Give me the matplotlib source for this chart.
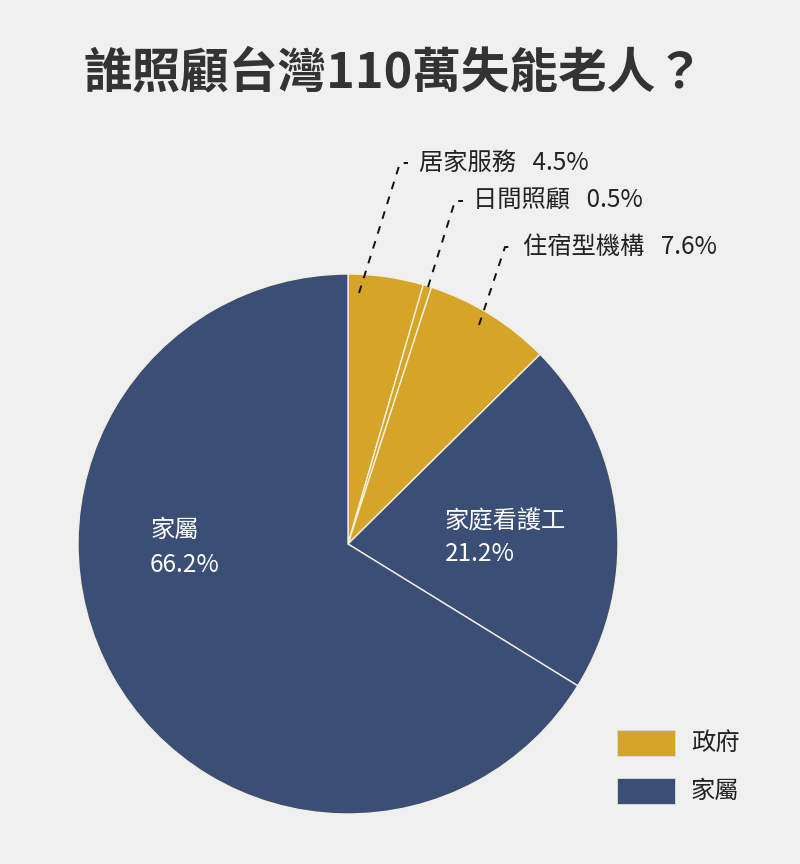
import matplotlib
matplotlib.use("Agg")
import matplotlib.pyplot as plt
from matplotlib.patches import Rectangle

plt.rcParams['font.family'] = ['Noto Sans CJK TC', 'DejaVu Sans']

title = "誰照顧台灣110萬失能老人？"
categories = ["居家服務", "日間照顧", "住宿型機構", "家庭看護工", "家屬"]
values = [4.5, 0.5, 7.6, 21.2, 66.2]
groups = ["政府", "政府", "政府", "家屬", "家屬"]
legend_labels = ["政府", "家屬"]
group_colors = {"政府": "#D5A528", "家屬": "#3A4E76"}

BG = "#F0F0F0"
W, H = 800, 864
fig = plt.figure(figsize=(W / 100, H / 100), dpi=100, facecolor=BG)
ax = fig.add_axes([0, 0, 1, 1])
ax.set_xlim(0, W)
ax.set_ylim(0, H)
ax.set_aspect('equal')
ax.axis('off')

cx, cy, r = 348, H - 544, 270
colors = [group_colors[g] for g in groups]
wedges, _ = ax.pie(values, colors=colors, startangle=90, counterclock=False,
                   center=(cx, cy), radius=r, frame=True,
                   wedgeprops=dict(edgecolor="#F4EFE2", linewidth=1.0))
ax.set_xlim(0, W)
ax.set_ylim(0, H)
ax.axis('off')

# Title
ax.text(394, H - 73, title, ha='center', va='center', fontsize=35,
        fontweight='bold', color="#333333")

FS = 17.5
TXT = "#222222"
# Outside labels with dashed leaders (pixel coords: inner point, elbow, text x)
leaders = [
    ((359, 293), (400, 163), 419),
    ((428, 287), (455, 201), 473),
    ((479, 325), (505, 247), 523),
]
for i, (p0, p1, tx) in enumerate(leaders):
    ax.plot([p0[0], p1[0], p1[0] + 8], [H - p0[1], H - p1[1], H - p1[1]],
            color="#111111", lw=1.4, ls=(0, (4, 4)))
    ax.text(tx, H - p1[1], f"{categories[i]}   {values[i]}%", ha='left',
            va='center', fontsize=FS, fontweight='light', color=TXT)

# Inside labels
ax.text(151, H - 530, categories[4], ha='left', va='center', fontsize=FS,
        fontweight='light', color='white')
ax.text(150, H - 565, f"{values[4]}%", ha='left', va='center', fontsize=FS,
        fontweight='light', color='white')
ax.text(445, H - 522, categories[3], ha='left', va='center', fontsize=FS,
        fontweight='light', color='white')
ax.text(445, H - 554, f"{values[3]}%", ha='left', va='center', fontsize=FS,
        fontweight='light', color='white')

# Legend
for j, lab in enumerate(legend_labels):
    y0 = 730 + j * 48
    ax.add_patch(Rectangle((617, H - y0 - 26), 58, 26, facecolor=group_colors[lab],
                           edgecolor="#DDDDDD", lw=0.6))
    ax.text(691, H - y0 - 13, lab, ha='left', va='center', fontsize=FS,
            fontweight='light', color=TXT)

fig.savefig("out.png", dpi=100, facecolor=BG)
